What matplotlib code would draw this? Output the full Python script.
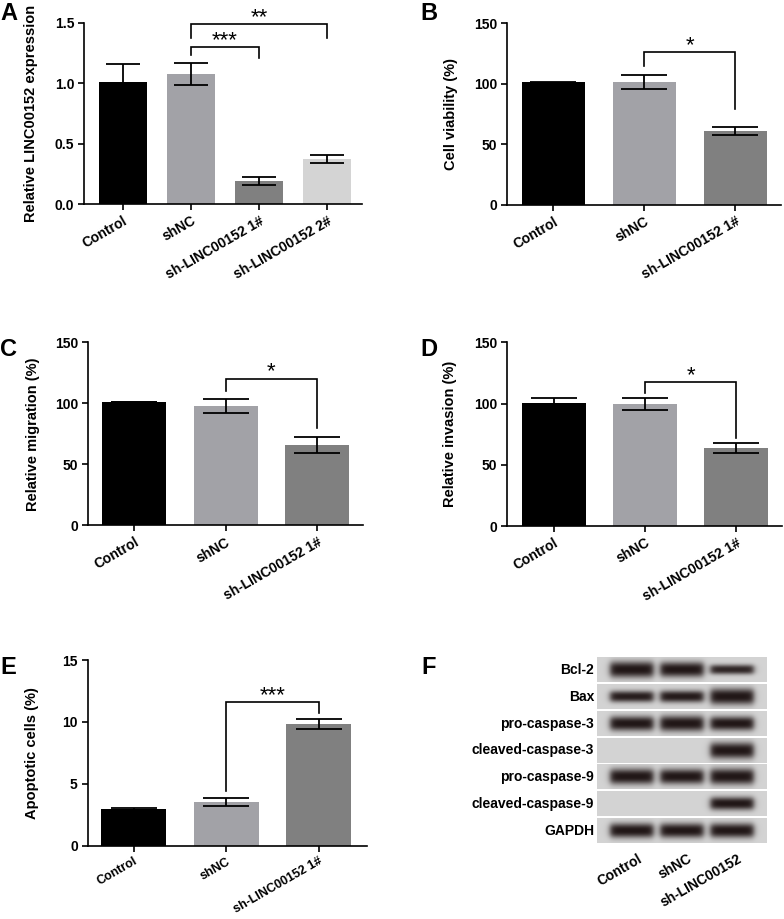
import numpy as np
import matplotlib
matplotlib.use("Agg")
import matplotlib.pyplot as plt

plt.rcParams['font.family'] = ['Liberation Sans', 'DejaVu Sans']
plt.rcParams['font.weight'] = 'bold'
plt.rcParams['axes.labelweight'] = 'bold'

# data
groups4 = ['Control', 'shNC', 'sh-LINC00152 1#', 'sh-LINC00152 2#']
groups3 = ['Control', 'shNC', 'sh-LINC00152 1#']

expr_mean = [1.007, 1.076, 0.19, 0.372]
expr_sd = [0.149, 0.09, 0.033, 0.034]

viab_mean = [101.2, 101.4, 60.9]
viab_sd = [0.6, 5.8, 3.4]

migr_mean = [100.8, 98.0, 65.6]
migr_sd = [0.0, 5.6, 6.7]

inv_mean = [100.2, 99.6, 63.7]
inv_sd = [4.6, 5.2, 4.1]

apop_mean = [2.94, 3.53, 9.83]
apop_sd = [0.13, 0.36, 0.38]

# brackets: (left group, right group, top, left leg end, right leg end, stars)
br_a = [(1, 2, 1.30, 1.23, 1.21, '***'), (1, 3, 1.49, 1.375, 1.375, '**')]
br_b = [(1, 2, 126.3, 115.0, 79.0, '*')]
br_c = [(1, 2, 120.2, 110.0, 80.0, '*')]
br_d = [(1, 2, 117.6, 108.8, 71.6, '*')]
br_e = [(1, 2, 11.58, 4.44, 10.7, '***')]

proteins = ['Bcl-2', 'Bax', 'pro-caspase-3', 'cleaved-caspase-3',
            'pro-caspase-9', 'cleaved-caspase-9', 'GAPDH']
lanes = ['Control', 'shNC', 'sh-LINC00152']
band_level = [[1.0, 0.9, 0.4],
              [0.55, 0.6, 1.0],
              [0.85, 0.95, 0.8],
              [0.0, 0.0, 1.0],
              [0.95, 0.9, 1.0],
              [0.0, 0.0, 0.7],
              [0.85, 0.85, 0.85]]

bar_colors = ['#000000', '#a2a2a7', '#808080', '#d4d4d4']

W, H = 784, 919
fig = plt.figure(figsize=(W / 100, H / 100), dpi=100)


def px_axes(x0, y0, x1, y1):
    return fig.add_axes([x0 / W, 1 - y1 / H, (x1 - x0) / W, (y1 - y0) / H])


def bar_panel(ax, names, mean, sd, ymax, yticks, yticklabels, ylabel,
              xlim, brackets, capsize, letter, label_dx, xsize=10):
    x = np.arange(len(names))
    ax.bar(x, mean, width=0.7, color=bar_colors[:len(names)], zorder=1)
    ax.errorbar(x, mean, yerr=sd, fmt='none', ecolor='black', elinewidth=1.3,
                capsize=capsize, capthick=1.3, zorder=3)
    ax.set_xlim(*xlim)
    ax.set_ylim(0, ymax)
    ax.set_yticks(yticks)
    ax.set_yticklabels(yticklabels)
    ax.set_xticks(x)
    ax.set_xticklabels(names, rotation=30, ha='right', rotation_mode='anchor',
                       fontsize=xsize)
    for s in ['top', 'right']:
        ax.spines[s].set_visible(False)
    for s in ['left', 'bottom']:
        ax.spines[s].set_linewidth(1.2)
    ax.tick_params(axis='y', labelsize=10)
    ax.tick_params(axis='both', width=1.2, length=4, pad=3)
    ax.set_ylabel(ylabel, fontsize=10.5)
    ax.yaxis.set_label_coords(label_dx, 0.5)
    for i, j, top, l_end, r_end, txt in brackets:
        ax.plot([i, i, j, j], [l_end, top, top, r_end], color='black',
                lw=1.2, solid_joinstyle='miter', clip_on=False)
        ax.text((i + j) / 2, top + ymax * 0.006, txt, ha='center',
                va='baseline', fontsize=16, fontweight='normal')
    fig.text(ax.get_position().x0 + letter[0] / W, ax.get_position().y1 + letter[1] / H,
             letter[2], fontsize=17, fontweight='bold', ha='left', va='top')


ax_a = px_axes(84, 22.7, 362, 204)
bar_panel(ax_a, groups4, expr_mean, expr_sd, 1.5, [0, 0.5, 1.0, 1.5],
          ['0.0', '0.5', '1.0', '1.5'], 'Relative LINC00152 expression',
          (-0.57, 3.51), br_a, 12.5, (-84, 21, 'A'), -0.165)

ax_b = px_axes(507, 23.3, 781, 204.7)
bar_panel(ax_b, groups3, viab_mean, viab_sd, 150, [0, 50, 100, 150],
          ['0', '50', '100', '150'], 'Cell viability (%)',
          (-0.51, 2.5), br_b, 16.5, (-87, 21, 'B'), -0.18)

ax_c = px_axes(88, 342.3, 363, 525.3)
bar_panel(ax_c, groups3, migr_mean, migr_sd, 150, [0, 50, 100, 150],
          ['0', '50', '100', '150'], 'Relative migration (%)',
          (-0.505, 2.5), br_c, 16.5, (-88, 4, 'C'), -0.175)

ax_d = px_axes(507, 342.3, 782, 526)
bar_panel(ax_d, groups3, inv_mean, inv_sd, 150, [0, 50, 100, 150],
          ['0', '50', '100', '150'], 'Relative invasion (%)',
          (-0.51, 2.5), br_d, 16.5, (-87, 4, 'D'), -0.18)

ax_e = px_axes(87.5, 660, 366.7, 845.7)
bar_panel(ax_e, groups3, apop_mean, apop_sd, 15, [0, 5, 10, 15],
          ['0', '5', '10', '15'], 'Apoptotic cells (%)',
          (-0.5, 2.52), br_e, 16.5, (-87, 4, 'E'), -0.175, xsize=9)

# panel F: western blot
ax_f = px_axes(597, 656.7, 766, 844)
x0, x1 = -0.69, 2.69
half = 0.455
xs = np.linspace(x0, x1, 340)
ys = np.linspace(-half, half, 50)
XX, YY = np.meshgrid(xs, ys)
bg = np.array([0.83, 0.83, 0.83])
ink = np.array([0.13, 0.09, 0.09])
for r, levels in enumerate(band_level):
    dark = np.zeros_like(XX)
    for k, v in enumerate(levels):
        if v <= 0:
            continue
        hw = 0.43
        prof_x = 1 / (1 + np.exp((np.abs(XX - k) - hw) / 0.035))
        thick = 0.1 + 0.2 * v
        prof_y = np.exp(-(np.abs(YY) / thick) ** 2.5)
        dark += prof_x * prof_y * min(1.0, 0.8 + 0.3 * v)
    dark = np.clip(dark, 0, 1)[..., None]
    img = bg * (1 - dark) + ink * dark
    ax_f.imshow(img, aspect='auto', extent=(x0, x1, r + half, r - half),
                interpolation='bilinear')
    ax_f.text(x0 - 0.06, r, proteins[r], ha='right', va='center',
              fontsize=10, fontweight='bold')
ax_f.set_xlim(x0, x1)
ax_f.set_ylim(len(proteins) - 0.5, -0.5)
ax_f.axis('off')
for k, name in enumerate(lanes):
    ax_f.text(k + 0.12, len(proteins) - 0.5 + 0.28, name, rotation=30,
              ha='right', va='top', rotation_mode='anchor', fontsize=10,
              fontweight='bold')
fig.text(421 / W, 1 - 656 / H, 'F', fontsize=17, fontweight='bold',
         ha='left', va='top')

fig.savefig('out.png', dpi=100)
